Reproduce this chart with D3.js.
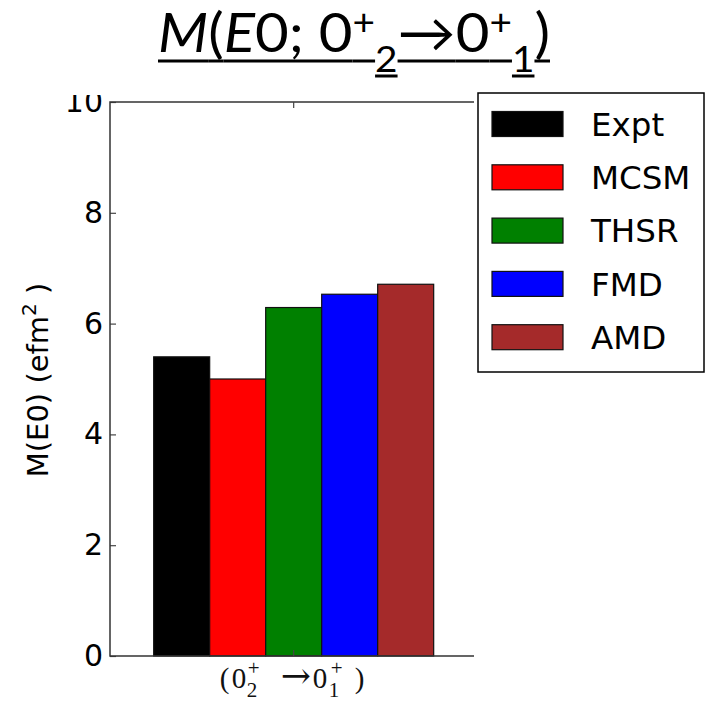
<!DOCTYPE html>
<html>
<head>
<meta charset="utf-8">
<script src="https://cdn.jsdelivr.net/npm/d3@7.9.0/dist/d3.min.js"></script>
<style>
  html, body { margin: 0; padding: 0; background: #fff; }
  svg { display: block; }
</style>
</head>
<body>
<div id="chart"></div>
<script>
const series = ['Expt', 'MCSM', 'THSR', 'FMD', 'AMD'];
const values = [5.4, 5.0, 6.29, 6.53, 6.71];
const colors = ['#000000', '#ff0000', '#008000', '#0000ff', '#a52a2a'];
const yTicks = [0, 2, 4, 6, 8, 10];
const yDomain = [0, 10];

const width = 706;
const height = 702;

const plot = { top: 102, right: 474, bottom: 656, left: 110 };

const svg = d3.select('#chart')
  .append('svg')
  .attr('width', width)
  .attr('height', height)
  .attr('viewBox', `0 0 ${width} ${height}`);

// the top of the axes is hidden under the slide title
svg.append('clipPath').attr('id', 'cut')
  .append('rect').attr('x', 0).attr('y', 95).attr('width', width).attr('height', height - 95);

const chart = svg.append('g').attr('clip-path', 'url(#cut)');

const yScale = d3.scaleLinear().domain(yDomain).range([plot.bottom, plot.top]);
const xScale = d3.scaleBand()
  .domain(series)
  .range([plot.left, plot.right])
  .paddingInner(0)
  .paddingOuter(0.75)
  .align(0.52);

// bars
chart.append('g')
  .selectAll('rect')
  .data(series)
  .join('rect')
  .attr('x', d => xScale(d))
  .attr('y', (d, i) => yScale(values[i]))
  .attr('width', xScale.bandwidth())
  .attr('height', (d, i) => yScale(0) - yScale(values[i]))
  .attr('fill', (d, i) => colors[i])
  .attr('stroke', '#111')
  .attr('stroke-width', 1.2);

// y axis: ticks inside, labels outside
const yAxis = chart.append('g')
  .attr('transform', `translate(${plot.left},0)`)
  .call(d3.axisRight(yScale).tickValues(yTicks).tickSize(6).tickFormat(''));
yAxis.select('.domain').remove();
yAxis.selectAll('line').attr('stroke', '#444').attr('stroke-width', 1.2);

chart.append('g')
  .selectAll('text')
  .data(yTicks)
  .join('text')
  .attr('x', plot.left - 7)
  .attr('y', d => yScale(d))
  .attr('dy', '0.33em')
  .attr('text-anchor', 'end')
  .attr('font-family', 'DejaVu Sans')
  .attr('font-size', 30)
  .attr('fill', '#000')
  .text(d => d);

// spines (no right spine, legend sits there)
const spine = d3.path();
spine.moveTo(plot.right, plot.top);
spine.lineTo(plot.left, plot.top);
spine.lineTo(plot.left, plot.bottom);
spine.lineTo(plot.right, plot.bottom);
chart.append('path')
  .attr('d', spine.toString())
  .attr('fill', 'none')
  .attr('stroke', '#333')
  .attr('stroke-width', 1.5);

// single x tick at the group centre, top and bottom
const xCenter = (xScale(series[0]) + xScale(series[series.length - 1]) + xScale.bandwidth()) / 2;
chart.append('line')
  .attr('x1', xCenter).attr('x2', xCenter)
  .attr('y1', plot.bottom).attr('y2', plot.bottom - 6)
  .attr('stroke', '#444').attr('stroke-width', 1.2);
chart.append('line')
  .attr('x1', xCenter).attr('x2', xCenter)
  .attr('y1', plot.top).attr('y2', plot.top + 6)
  .attr('stroke', '#444').attr('stroke-width', 1.2);

// x tick label (0_2^+ -> 0_1^+ ), sub and sup stacked as in TeX
const xParts = [
  { t: '(', dx: -74, dy: 0 },
  { t: '0', dx: -62, dy: 0 },
  { t: '2', dx: -47, dy: 9, small: true },
  { t: '+', dx: -46, dy: -13, small: true },
  { t: '\u2192', dx: -13, dy: 0, arrow: true },
  { t: '0', dx: 19, dy: 0 },
  { t: '1', dx: 35, dy: 9, small: true },
  { t: '+', dx: 37, dy: -13, small: true },
  { t: ')', dx: 61, dy: 0 }
];
svg.append('g')
  .attr('transform', `translate(${xCenter},688)`)
  .selectAll('text')
  .data(xParts)
  .join('text')
  .attr('x', d => d.dx)
  .attr('y', d => d.dy)
  .attr('font-family', d => d.arrow ? 'DejaVu Serif' : 'Liberation Serif')
  .attr('font-size', d => d.arrow ? 36 : d.small ? 21 : 29)
  .attr('font-weight', d => d.arrow ? 200 : null)
  .attr('fill', '#111')
  .text(d => d.t);

// y label
const yl = svg.append('text')
  .attr('transform', `translate(48,${(plot.top + plot.bottom) / 2 + 1}) rotate(-90)`)
  .attr('text-anchor', 'middle')
  .attr('font-family', 'DejaVu Sans')
  .attr('font-size', 29)
  .attr('fill', '#000');
yl.append('tspan').text('M(E0) (efm');
yl.append('tspan').attr('font-size', 20).attr('dy', -12).text('2');
yl.append('tspan').attr('dy', 12).text(' )');

// legend
const legend = svg.append('g');
legend.append('rect')
  .attr('x', 478).attr('y', 93)
  .attr('width', 226).attr('height', 279)
  .attr('fill', '#fff')
  .attr('stroke', '#000')
  .attr('stroke-width', 1.5);

const row = legend.selectAll('g.item')
  .data(series)
  .join('g')
  .attr('class', 'item')
  .attr('transform', (d, i) => `translate(492,${124 + i * 53.3})`);
row.append('rect')
  .attr('x', 0).attr('y', -12.5)
  .attr('width', 71).attr('height', 25)
  .attr('fill', (d, i) => colors[i])
  .attr('stroke', '#111')
  .attr('stroke-width', 1.2);
row.append('text')
  .attr('x', 99)
  .attr('dy', '0.36em')
  .attr('font-family', 'DejaVu Sans')
  .attr('font-size', 32.5)
  .attr('fill', '#000')
  .text(d => d);

// slide title: main underline at the baseline level, subscripts underlined lower
const titleG = svg.append('g');
const title = titleG.append('text')
  .attr('x', 0)
  .attr('y', 52)
  .attr('font-family', 'Lato, "Open Sans", sans-serif')
  .attr('font-size', 54)
  .attr('fill', '#000');
const parts = [
  { t: 'M', it: true },
  { t: '(' },
  { t: 'E', it: true },
  { t: '0; 0' },
  { t: '+', sup: true },
  { t: '2', sub: true },
  { t: '\u2192' },
  { t: '0' },
  { t: '+', sup: true },
  { t: '1', sub: true },
  { t: ')' }
];
parts.forEach(p => {
  const ts = title.append('tspan').text(p.t);
  if (p.it) ts.attr('font-style', 'italic');
  if (p.sup) ts.attr('font-size', 36).attr('baseline-shift', 17);
  if (p.sub) ts.attr('font-size', 36).attr('baseline-shift', -20);
});
const tnode = title.node();
let ci = 0;
parts.forEach(p => {
  const n = p.t.length;
  const x0 = tnode.getStartPositionOfChar(ci).x;
  const x1 = tnode.getEndPositionOfChar(ci + n - 1).x;
  ci += n;
  const uy = p.sub ? 76 : 61;
  titleG.append('line')
    .attr('x1', x0).attr('x2', x1)
    .attr('y1', uy).attr('y2', uy)
    .attr('stroke', '#000')
    .attr('stroke-width', 3);
});
const bb = titleG.node().getBBox();
const sx = 392 / bb.width;
titleG.attr('transform', `translate(158,0) scale(${sx},1) translate(${-bb.x},0)`);
</script>
</body>
</html>
